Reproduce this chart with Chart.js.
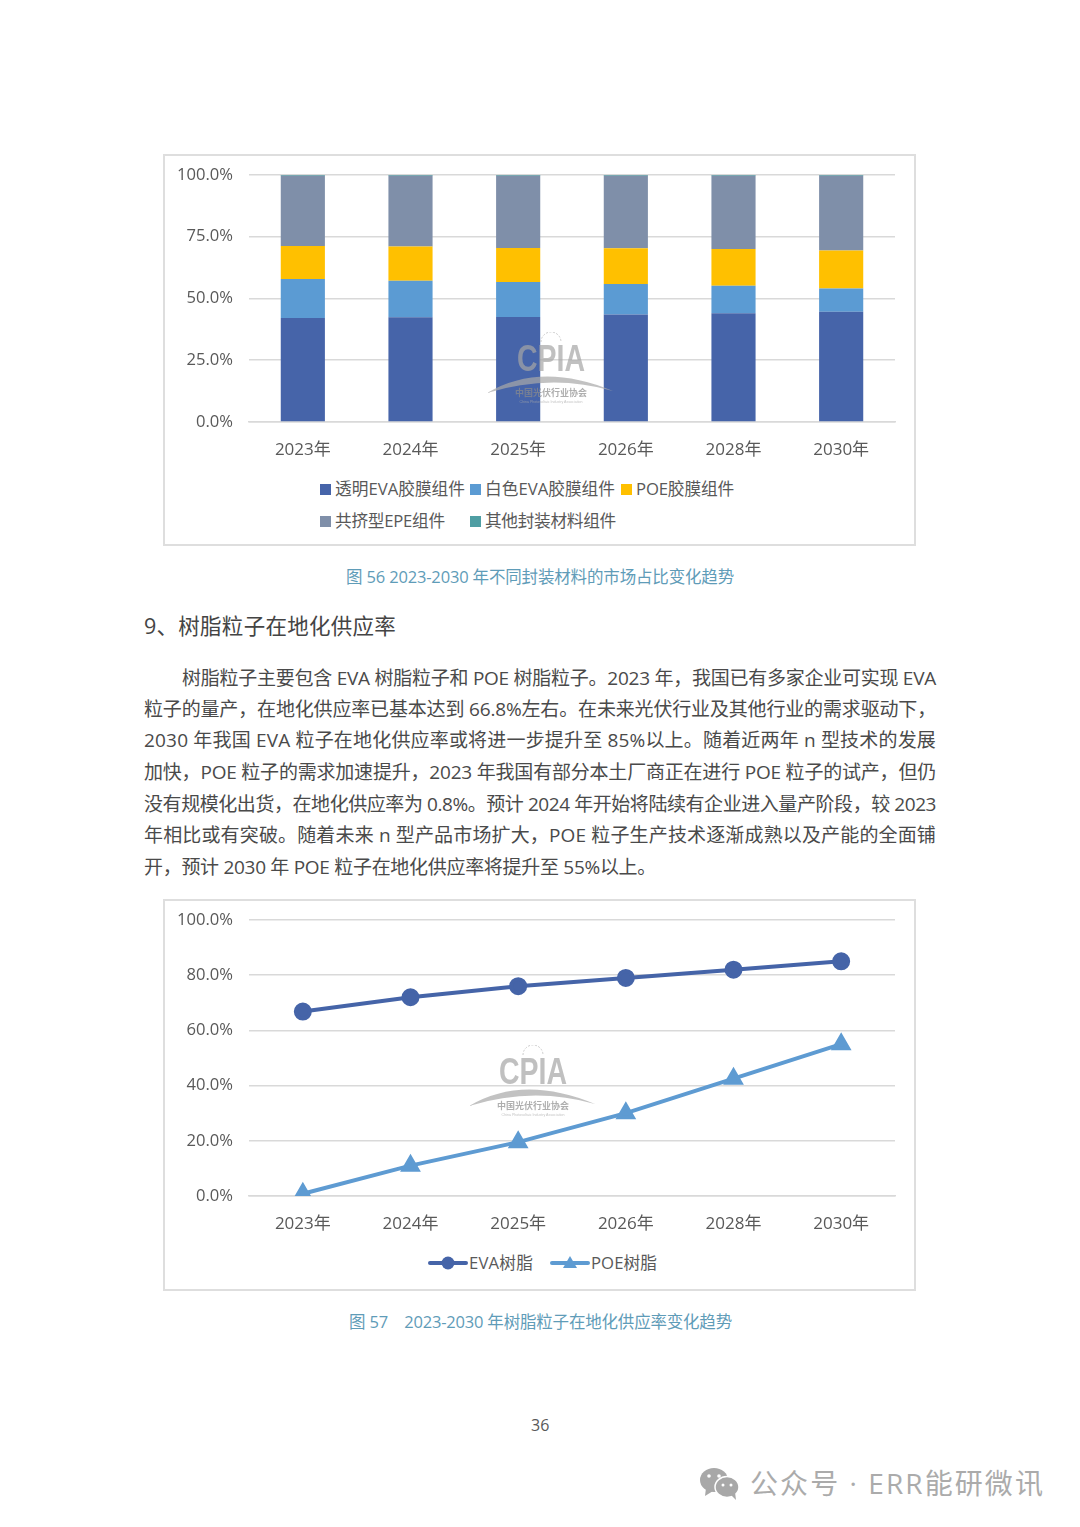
<!DOCTYPE html>
<html>
<head>
<meta charset="utf-8">
<script src="https://cdn.jsdelivr.net/npm/chart.js@4"></script>
<style>
  html, body { margin: 0; padding: 0; background: #fff; }
  body { position: relative; width: 1080px; height: 1527px; overflow: hidden;
    font-family: "Open Sans", "Noto Sans CJK SC", sans-serif; color: #444; }
  .abs { position: absolute; white-space: nowrap; }
  .box { position: absolute; box-sizing: border-box; border: 2px solid #dedede; background: #fff; }
  canvas { position: absolute; }
  .line { position: absolute; left: 144px; line-height: 30px; font-size: 19px; white-space: nowrap; color: #4a4a4a; }
  .caption { color: #5f9cb8; font-size: 16.5px; line-height: 22px; }
  .leg { font-size: 16.7px; line-height: 22px; color: #595959; }
  .sq { position: absolute; width: 11px; height: 11px; }
  .wm { position: absolute; pointer-events: none; }
</style>
</head>
<body>

<div class="box" style="left:163px;top:154px;width:753px;height:392px"></div>
<canvas id="barChart" width="748" height="322" style="left:166px;top:149px"></canvas>
<div id="barLegend"></div>

<div id="cap56" class="abs caption" style="left:346px;top:566px">图 56 2023-2030 年不同封装材料的市场占比变化趋势</div>
<div id="head9" class="abs" style="left:144px;top:611px;font-size:21.5px;line-height:30px;color:#444">9、树脂粒子在地化供应率</div>

<div id="bodyText"></div>

<div class="box" style="left:163px;top:899px;width:753px;height:392px"></div>
<canvas id="lineChart" width="748" height="351" style="left:166px;top:894px"></canvas>
<div id="lineLegend"></div>

<div id="cap57" class="abs caption" style="left:349px;top:1311px">图 57　2023-2030 年树脂粒子在地化供应率变化趋势</div>
<div class="abs" style="left:531px;top:1414px;font-size:16px;line-height:22px;color:#595959">36</div>

<svg class="wm" style="left:698px;top:1462px" width="46" height="42">
  <ellipse cx="16" cy="18" rx="14" ry="12" fill="#a8a8a8"/>
  <path d="M8 26 L7 34 L15 29 Z" fill="#a8a8a8"/>
  <ellipse cx="29" cy="25" rx="12" ry="10.5" fill="#a8a8a8" stroke="#fff" stroke-width="1.5"/>
  <path d="M33 33 L38 38 L37 30 Z" fill="#a8a8a8"/>
  <circle cx="11" cy="14" r="1.8" fill="#fff"/><circle cx="21" cy="14" r="1.8" fill="#fff"/>
  <circle cx="25" cy="23" r="1.5" fill="#fff"/><circle cx="33" cy="23" r="1.5" fill="#fff"/>
</svg>
<div id="wechat" class="abs" style="left:750px;top:1463px;font-size:28px;line-height:40px;color:#ababab">公众号 · ERR能研微讯</div>

<script>
// chart data
const barYears = ['2023年', '2024年', '2025年', '2026年', '2028年', '2030年'];
const clearEva = [42.1, 42.4, 42.5, 43.5, 44.0, 44.6];
const whiteEva = [15.8, 14.8, 14.2, 12.4, 11.2, 9.4];
const poeFilm = [13.3, 13.8, 13.7, 14.4, 14.8, 15.4];
const epeFilm = [28.5, 28.7, 29.3, 29.4, 29.7, 30.3];
const otherFilm = [0.3, 0.3, 0.3, 0.3, 0.3, 0.3];
const barNames = ['透明EVA胶膜组件', '白色EVA胶膜组件', 'POE胶膜组件', '共挤型EPE组件', '其他封装材料组件'];
const barColors = ['#4664a9', '#5b9bd3', '#ffc000', '#7f8fa9', '#4f9ea3'];

const lineYears = ['2023年', '2024年', '2025年', '2026年', '2028年', '2030年'];
const evaResin = [66.8, 72, 76, 79, 82, 85];
const poeResin = [0.8, 11, 19.5, 30, 42.5, 55];
const lineNames = ['EVA树脂', 'POE树脂'];
const lineColors = ['#4564a8', '#5e9bd2'];

const bodyLines = [
  '树脂粒子主要包含 EVA 树脂粒子和 POE 树脂粒子。2023 年，我国已有多家企业可实现 EVA',
  '粒子的量产，在地化供应率已基本达到 66.8%左右。在未来光伏行业及其他行业的需求驱动下，',
  '2030 年我国 EVA 粒子在地化供应率或将进一步提升至 85%以上。随着近两年 n 型技术的发展',
  '加快，POE 粒子的需求加速提升，2023 年我国有部分本土厂商正在进行 POE 粒子的试产，但仍',
  '没有规模化出货，在地化供应率为 0.8%。预计 2024 年开始将陆续有企业进入量产阶段，较 2023',
  '年相比或有突破。随着未来 n 型产品市场扩大，POE 粒子生产技术逐渐成熟以及产能的全面铺',
  '开，预计 2030 年 POE 粒子在地化供应率将提升至 55%以上。'
];

const fontFamily = '"Open Sans", "Noto Sans CJK SC", sans-serif';
const gridColor = '#d9d9d9';
const textColor = '#595959';

// squeeze or stretch a text div to the width it has on the page
function fitWidth(el, target) {
  const natural = el.getBoundingClientRect().width;
  el.style.letterSpacing = ((target - natural) / el.textContent.length) + 'px';
}

// body paragraph, one div per line so the breaks stay as in the page
const bodyTops = [663, 694, 725, 757, 789, 820, 852];
const bodyWidths = [754, 792, 792, 792, 792, 792, 512];
bodyLines.forEach((text, i) => {
  const div = document.createElement('div');
  div.className = 'line';
  div.textContent = text;
  div.style.top = bodyTops[i] + 'px';
  if (i === 0) { div.style.left = '182px'; }
  document.getElementById('bodyText').appendChild(div);
  fitWidth(div, bodyWidths[i]);
});
fitWidth(document.getElementById('cap56'), 388);
fitWidth(document.getElementById('cap57'), 383);
fitWidth(document.getElementById('head9'), 252);
fitWidth(document.getElementById('wechat'), 295);

// shared axes for both charts
function makeScales(step, stacked) {
  return {
    x: {
      stacked: stacked,
      offset: true,
      grid: { display: false, drawTicks: false },
      border: { display: true, color: gridColor, width: 1.5 },
      ticks: { color: textColor, padding: 18, font: { family: fontFamily, size: 17 }, maxRotation: 0 },
      afterFit: (scale) => { scale.height = 49; }
    },
    y: {
      stacked: stacked,
      min: 0,
      max: 100,
      grid: { color: gridColor, lineWidth: 1.5, drawTicks: false },
      border: { display: false },
      ticks: {
        stepSize: step,
        color: textColor,
        padding: 16,
        font: { family: fontFamily, size: 16.6 },
        callback: (v) => v.toFixed(1) + '%'
      },
      afterFit: (scale) => { scale.width = 83; }
    }
  };
}

const baseOptions = {
  responsive: false,
  animation: false,
  devicePixelRatio: 1,
  layout: { padding: { top: 8, right: 19, left: 0, bottom: 0 } },
  plugins: { legend: { display: false }, tooltip: { enabled: false } }
};

const barValues = [clearEva, whiteEva, poeFilm, epeFilm, otherFilm];
new Chart(document.getElementById('barChart').getContext('2d'), {
  type: 'bar',
  data: {
    labels: barYears,
    datasets: barValues.map((values, i) => ({
      label: barNames[i],
      data: values,
      backgroundColor: barColors[i],
      barPercentage: 0.41,
      categoryPercentage: 1
    }))
  },
  options: { ...baseOptions, scales: makeScales(25, true) }
});

new Chart(document.getElementById('lineChart').getContext('2d'), {
  type: 'line',
  data: {
    labels: lineYears,
    datasets: [
      { label: lineNames[0], data: evaResin, borderColor: lineColors[0], backgroundColor: lineColors[0],
        borderWidth: 4, tension: 0, pointStyle: 'circle', pointRadius: 7 },
      { label: lineNames[1], data: poeResin, borderColor: lineColors[1], backgroundColor: lineColors[1],
        borderWidth: 4, tension: 0, pointStyle: 'triangle', pointRadius: 8 }
    ]
  },
  options: { ...baseOptions, scales: makeScales(20, false) }
});

// legends are html because the page lines them up in columns
const barLegendPos = [[320, 489], [470, 489], [621, 489], [320, 521], [470, 521]];
const barLegendWidths = [130, 130, 98, 110, 131];
barNames.forEach((name, i) => {
  const holder = document.getElementById('barLegend');
  const sq = document.createElement('div');
  sq.className = 'sq';
  sq.style.cssText = 'left:' + barLegendPos[i][0] + 'px;top:' + (barLegendPos[i][1] - 5) + 'px;background:' + barColors[i];
  holder.appendChild(sq);
  const label = document.createElement('div');
  label.className = 'abs leg';
  label.style.left = (barLegendPos[i][0] + 15) + 'px';
  label.style.top = (barLegendPos[i][1] - 11) + 'px';
  label.textContent = name;
  holder.appendChild(label);
  fitWidth(label, barLegendWidths[i]);
});

const lineLegendX = [428, 550];
const lineLegendWidths = [64, 66];
lineNames.forEach((name, i) => {
  const holder = document.getElementById('lineLegend');
  const x = lineLegendX[i];
  const mark = document.createElementNS('http://www.w3.org/2000/svg', 'svg');
  mark.setAttribute('width', 40);
  mark.setAttribute('height', 16);
  mark.setAttribute('class', 'wm');
  mark.style.left = x + 'px';
  mark.style.top = '1255px';
  mark.innerHTML = '<rect x="0" y="6" width="40" height="4" rx="2" fill="' + lineColors[i] + '"/>' +
    (i === 0 ? '<circle cx="20" cy="8" r="6.5" fill="' + lineColors[i] + '"/>'
             : '<path d="M20 1 L27 13 L13 13 Z" fill="' + lineColors[i] + '"/>');
  holder.appendChild(mark);
  const label = document.createElement('div');
  label.className = 'abs leg';
  label.style.left = (x + 41) + 'px';
  label.style.top = '1252px';
  label.textContent = name;
  holder.appendChild(label);
  fitWidth(label, lineLegendWidths[i]);
});

// CPIA watermark over both charts
function addWatermark(cx, top) {
  const svg = document.createElementNS('http://www.w3.org/2000/svg', 'svg');
  svg.setAttribute('width', 140);
  svg.setAttribute('height', 80);
  svg.setAttribute('class', 'wm');
  svg.style.left = (cx - 70) + 'px';
  svg.style.top = top + 'px';
  svg.innerHTML =
    '<g opacity="0.7">' +
    '<path d="M60 10 A10 10 0 0 1 80 10" fill="none" stroke="#b5b5b5" stroke-width="1" stroke-dasharray="2 1.5"/>' +
    '<text x="36" y="39" textLength="68" lengthAdjust="spacingAndGlyphs" font-family="Liberation Sans" font-weight="700" font-size="36" fill="#a6a6a6">CPIA</text>' +
    '<path d="M6 61 Q60 29 132 59 Q70 41 6 61 Z" fill="#a9a9a9"/>' +
    '<text x="70" y="64" text-anchor="middle" font-family="Noto Sans CJK SC" font-size="9" font-weight="700" fill="#8c8c8c">中国光伏行业协会</text>' +
    '<text x="70" y="71" text-anchor="middle" font-family="Liberation Sans" font-size="3.6" fill="#aaa">China Photovoltaic Industry Association</text>' +
    '</g>';
  document.body.appendChild(svg);
}
addWatermark(551, 332);
addWatermark(533, 1045);
</script>
</body>
</html>
